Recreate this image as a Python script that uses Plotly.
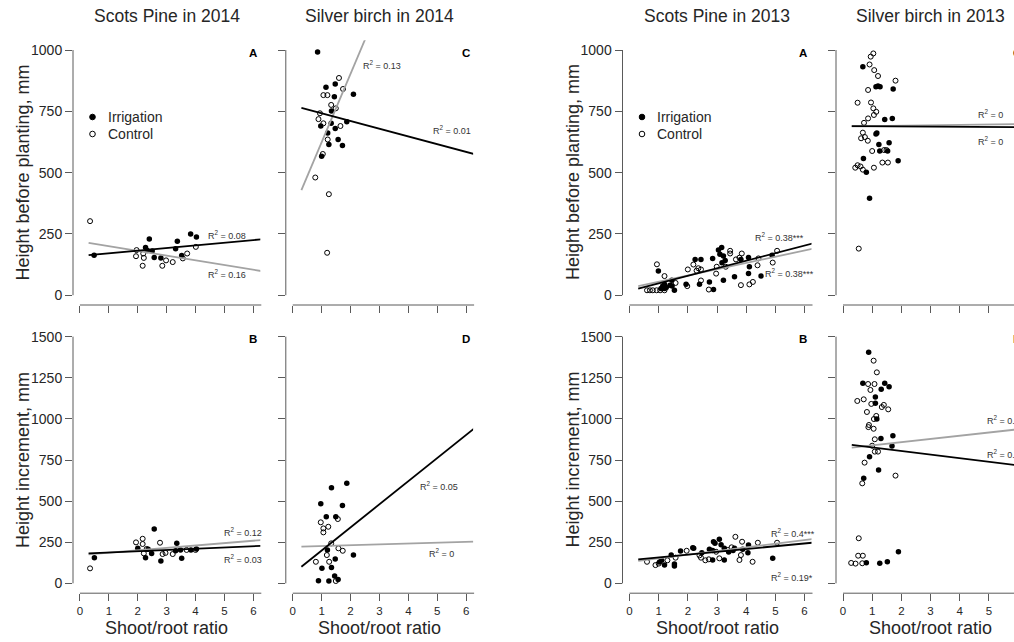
import plotly.graph_objects as go

W, H = 1014, 642          # reference picture size
FONT = "Liberation Sans, Arial, Helvetica, sans-serif"

# ---------------- data ----------------
# Panel 1: Scots pine 2014, height before planting
p1_irr_x = [0.49, 2.27, 2.40, 2.33, 2.50, 2.57, 2.80, 3.31, 3.37, 3.52, 3.83, 4.03]
p1_irr_y = [163, 195, 229, 182, 180, 154, 152, 189, 220, 162, 250, 237]
p1_ctl_x = [0.35, 1.96, 1.94, 2.19, 2.21, 2.17, 2.85, 2.98, 3.21, 3.56, 3.71, 4.01]
p1_ctl_y = [302, 184, 159, 170, 152, 120, 120, 142, 135, 150, 170, 197]

# Panel 2: Silver birch 2014, height before planting
p2_irr_x = [0.86, 1.15, 1.47, 1.44, 2.10, 1.34, 1.87, 0.97, 1.33, 1.47, 1.21, 1.57, 1.25, 1.72, 1.00]
p2_irr_y = [992, 848, 861, 809, 820, 751, 707, 690, 701, 680, 662, 635, 615, 611, 567]
p2_ctl_x = [1.60, 1.74, 1.06, 1.20, 1.33, 1.49, 0.94, 0.89, 1.06, 1.65, 1.21, 1.04, 0.78, 1.25, 1.19]
p2_ctl_y = [886, 841, 816, 816, 776, 762, 742, 718, 701, 690, 635, 576, 480, 412, 173]

# Panel 3: Scots pine 2013, height before planting
p3_irr_x = [0.99, 1.08, 1.14, 1.20, 1.20, 1.26, 1.39, 1.46, 1.54, 1.45, 1.94, 2.25, 2.45, 2.40, 2.74, 2.88,
            2.85, 3.05, 3.16, 3.10, 3.22, 3.28, 3.17, 3.22, 3.60, 3.82, 4.08, 4.11, 4.08, 4.51, 4.89]
p3_irr_y = [99, 27, 37, 45, 27, 31, 41, 37, 20, 61, 45, 146, 146, 45, 54, 23,
            150, 184, 195, 167, 160, 142, 132, 61, 75, 146, 154, 116, 88, 78, 163]
p3_ctl_x = [0.94, 1.20, 0.60, 0.70, 0.80, 0.93, 1.05, 1.20, 1.58, 2.00, 1.98, 2.19, 2.30, 2.36, 2.45, 2.45,
            2.72, 2.97, 2.99, 3.30, 3.45, 3.45, 3.65, 3.77, 3.85, 3.82, 4.11, 4.23, 4.39, 4.42, 4.91, 5.06]
p3_ctl_y = [126, 78, 20, 20, 20, 20, 20, 20, 50, 105, 37, 125, 100, 110, 105, 60,
            23, 88, 116, 116, 181, 170, 146, 153, 170, 41, 44, 54, 122, 150, 133, 181]

# Panel 4: Silver birch 2013, height before planting
p4_irr_x = [0.68, 1.13, 1.20, 1.27, 1.72, 1.43, 1.69, 1.13, 1.23, 1.58, 1.26, 1.53, 1.89, 0.70, 0.80, 0.91, 1.16]
p4_irr_y = [932, 850, 853, 850, 841, 717, 721, 657, 615, 622, 588, 588, 548, 558, 501, 395, 662]
p4_ctl_x = [1.04, 0.95, 0.91, 1.07, 1.20, 1.80, 0.86, 0.50, 0.96, 1.04, 1.14, 1.06, 0.86, 0.72, 0.68,
            0.62, 0.75, 0.85, 1.00, 1.35, 1.54, 0.42, 0.50, 0.60, 0.68, 1.06, 0.54, 1.49, 1.41]
p4_ctl_y = [986, 973, 941, 918, 894, 875, 837, 785, 786, 762, 748, 735, 721, 703, 663,
            640, 645, 630, 588, 541, 541, 520, 530, 525, 512, 520, 190, 592, 592]

# Panel 5: Scots pine 2014, height increment
p5_irr_x = [0.50, 2.00, 2.27, 2.36, 2.48, 2.57, 2.80, 3.35, 3.31, 3.52, 3.48, 3.84, 4.03]
p5_irr_y = [156, 213, 156, 207, 182, 330, 136, 243, 198, 152, 203, 203, 209]
p5_ctl_x = [0.35, 1.94, 2.17, 2.17, 2.21, 2.31, 2.77, 2.86, 2.96, 3.21, 3.69, 4.00]
p5_ctl_y = [91, 249, 271, 239, 182, 209, 247, 178, 185, 178, 203, 203]

# Panel 6: Silver birch 2014, height increment
p6_irr_x = [1.34, 1.87, 0.97, 1.72, 1.16, 1.49, 1.20, 2.10, 1.47, 1.01, 1.34, 1.45, 1.57, 0.89, 1.25]
p6_irr_y = [582, 608, 484, 474, 405, 405, 203, 172, 148, 91, 97, 44, 24, 16, 14]
p6_ctl_x = [1.56, 0.97, 1.23, 1.06, 1.06, 1.33, 1.58, 1.73, 1.18, 0.80, 1.26, 1.49]
p6_ctl_y = [391, 371, 344, 334, 310, 243, 213, 198, 172, 131, 131, 14]

# Panel 7: Scots pine 2013, height increment
p7_irr_x = [1.03, 1.10, 1.20, 1.43, 1.54, 1.75, 2.20, 2.17, 2.48, 2.74, 2.88, 2.93, 2.85, 3.08, 3.14,
            3.25, 3.25, 3.40, 3.55, 3.60, 3.88, 4.08, 4.06, 4.91, 1.54, 2.85]
p7_irr_y = [130, 140, 111, 172, 117, 196, 213, 217, 186, 207, 253, 243, 200, 268, 235,
            213, 142, 190, 200, 213, 207, 233, 186, 152, 105, 142]
p7_ctl_x = [0.60, 0.89, 1.00, 1.58, 1.96, 2.40, 2.45, 2.72, 2.97, 3.08, 3.37, 3.50, 3.63, 3.77, 3.82,
            3.86, 4.22, 4.40, 5.06, 1.30, 2.60]
p7_ctl_y = [131, 111, 120, 156, 198, 170, 156, 146, 192, 152, 203, 219, 283, 142, 172,
            253, 131, 247, 247, 140, 140]

# Panel 8: Silver birch 2013, height increment
p8_irr_x = [0.88, 0.68, 1.43, 1.58, 1.31, 1.11, 1.11, 1.16, 1.30, 1.71, 1.68, 0.91, 1.22, 0.71,
            0.80, 1.26, 1.52, 1.90]
p8_irr_y = [1405, 1217, 1217, 1196, 1180, 1133, 1095, 999, 880, 898, 835, 770, 689, 639,
            125, 122, 131, 192]
p8_ctl_x = [1.05, 1.16, 0.86, 1.08, 0.94, 0.49, 0.71, 0.97, 1.40, 1.33, 1.55, 0.82, 1.14, 1.06, 0.89,
            0.87, 1.05, 1.09, 1.00, 1.09, 1.20, 0.74, 0.66, 1.80, 0.54, 0.52, 0.68, 0.28, 0.43, 0.66]
p8_ctl_y = [1354, 1283, 1212, 1212, 1176, 1109, 1119, 1091, 1085, 1072, 1058, 1042, 1018, 999, 963,
            950, 940, 876, 837, 801, 801, 734, 608, 655, 274, 168, 168, 124, 120, 122]

# regression lines (intercept, slope) for irrigation and control, per panel
irr_fit = [(160, 10.8), (773, -31.4), (18, 30.7), (690, -0.8),
           (180, 7.6), (59, 140.6), (141, 16.9), (848, -21.8)]
ctl_fit = [(219, -19.2), (345, 279), (29.3, 25.5), (688, 1.6),
           (171.6, 14.6), (221.5, 5.1), (130.4, 22.1), (819.5, 19.5)]
fit_x = [0.3, 6.3]

# R^2 labels (irrigation, control) per panel
r2_irr = ["0.08", "0.01", "0.38***", "0", "0.03", "0.05", "0.19*", "0.15"]
r2_ctl = ["0.16", "0.13", "0.38***", "0", "0.12", "0", "0.4***", "0.03"]

panel_letters = ["A", "C", "A", "C", "B", "D", "B", "D"]
col_titles = ["Scots Pine in 2014", "Silver birch in 2014", "Scots Pine in 2013", "Silver birch in 2013"]
row_titles = ["Height before planting, mm", "Height increment, mm"]
x_title = "Shoot/root ratio"
legend_labels = ["Irrigation", "Control"]
x_ticks = [0, 1, 2, 3, 4, 5, 6]
y_ticks = [[0, 250, 500, 750, 1000], [0, 250, 500, 750, 1000, 1250, 1500]]

irr_x = [p1_irr_x, p2_irr_x, p3_irr_x, p4_irr_x, p5_irr_x, p6_irr_x, p7_irr_x, p8_irr_x]
irr_y = [p1_irr_y, p2_irr_y, p3_irr_y, p4_irr_y, p5_irr_y, p6_irr_y, p7_irr_y, p8_irr_y]
ctl_x = [p1_ctl_x, p2_ctl_x, p3_ctl_x, p4_ctl_x, p5_ctl_x, p6_ctl_x, p7_ctl_x, p8_ctl_x]
ctl_y = [p1_ctl_y, p2_ctl_y, p3_ctl_y, p4_ctl_y, p5_ctl_y, p6_ctl_y, p7_ctl_y, p8_ctl_y]

# ---------------- layout geometry (reference-picture pixels) ----------------
COL_PX = [(73.0, 260.3), (285.8, 473.1), (622.5, 811.5), (836.0, 1014.0)]
COL_XR = [(-0.24, 6.24), (-0.24, 6.24), (-0.24, 6.24), (-0.24, 5.862)]
ROW_PX = [(40.2, 305.0), (326.8, 593.2)]
ROW_YR = [(-40, 1040), (-60, 1560)]

AXC = "#5a5a5a"
TXT = "#262626"


def px(x):
    return x / W


def py(y):
    return 1 - y / H


def val2py(row, v):
    t, b = ROW_PX[row]
    r0, r1 = ROW_YR[row]
    return b - (v - r0) / (r1 - r0) * (b - t)


def val2px(col, v):
    l, r = COL_PX[col]
    r0, r1 = COL_XR[col]
    unit = (r - l) / (r1 - r0)
    return l + (v - r0) * unit


fig = go.Figure()
layout = dict(
    width=W, height=H,
    margin=dict(l=0, r=0, t=0, b=0),
    paper_bgcolor="white", plot_bgcolor="white",
    showlegend=False,
    font=dict(family=FONT, color=TXT),
)
shapes = []
annotations = []

for row in range(2):
    for col in range(4):
        k = row * 4 + col + 1
        idx = k - 1
        xs = "" if k == 1 else str(k)
        l, r = COL_PX[col]
        t, b = ROW_PX[row]
        layout["xaxis" + xs] = dict(
            domain=[px(l), min(1.0, px(r))], range=list(COL_XR[col]), anchor="y" + xs,
            tickvals=x_ticks, ticks="outside", ticklen=7, tickwidth=1, tickcolor=AXC,
            showticklabels=(row == 1), tickfont=dict(size=11.5, color=TXT, family=FONT),
            showline=False, showgrid=False, zeroline=False, fixedrange=True,
        )
        layout["yaxis" + xs] = dict(
            domain=[py(b), py(t)], range=list(ROW_YR[row]), anchor="x" + xs,
            tickvals=y_ticks[row], ticks="outside", ticklen=7, tickwidth=1, tickcolor=AXC,
            showticklabels=(col in (0, 2)), tickfont=dict(size=14, color=TXT, family=FONT),
            showline=False, showgrid=False, zeroline=False, fixedrange=True,
        )
        # points
        fig.add_trace(go.Scatter(
            x=ctl_x[idx], y=ctl_y[idx], mode="markers", xaxis="x" + xs, yaxis="y" + xs,
            marker=dict(symbol="circle-open", size=5, color="black", line=dict(width=1, color="black")),
            name=legend_labels[1]))
        fig.add_trace(go.Scatter(
            x=irr_x[idx], y=irr_y[idx], mode="markers", xaxis="x" + xs, yaxis="y" + xs,
            marker=dict(symbol="circle", size=5.5, color="black", line=dict(width=0)),
            name=legend_labels[0]))
        # regression lines
        a, s = ctl_fit[idx]
        fig.add_trace(go.Scatter(
            x=fit_x, y=[a + s * xv for xv in fit_x], mode="lines", xaxis="x" + xs, yaxis="y" + xs,
            line=dict(color="#a3a3a3", width=1.8), hoverinfo="skip"))
        a, s = irr_fit[idx]
        fig.add_trace(go.Scatter(
            x=fit_x, y=[a + s * xv for xv in fit_x], mode="lines", xaxis="x" + xs, yaxis="y" + xs,
            line=dict(color="black", width=1.8), hoverinfo="skip"))

        # R-style axis lines
        shapes.append(dict(type="line", xref="paper", yref="paper",
                           x0=px(l), x1=px(l), y0=py(val2py(row, 0)), y1=py(val2py(row, y_ticks[row][-1])),
                           line=dict(color=AXC, width=1)))
        shapes.append(dict(type="line", xref="paper", yref="paper",
                           x0=px(val2px(col, 0)), x1=min(1.0, px(r + 1)), y0=py(b), y1=py(b),
                           line=dict(color=AXC, width=1)))

        # panel letter
        lx = val2px(col, 0) + 173.5
        annotations.append(dict(text="<b>%s</b>" % panel_letters[idx], x=px(lx), y=py(t + 12.5),
                                xref="paper", yref="paper", showarrow=False, xanchor="center", yanchor="middle",
                                font=dict(size=11.5, color="black", family=FONT)))

# R^2 label positions (left px, center py) for irrigation and control
r2_pos_irr = [(206, 235), (431, 130), (753, 237), (976, 141), (222, 559), (418, 486), (769, 577), (985, 454)]
r2_pos_ctl = [(206, 274), (361, 65), (763, 273), (976, 114), (222, 532), (427, 553), (769, 533), (985, 420)]
for i in range(8):
    for lab, pos in ((r2_irr[i], r2_pos_irr[i]), (r2_ctl[i], r2_pos_ctl[i])):
        annotations.append(dict(text="R<sup>2</sup> = " + lab, x=px(pos[0]), y=py(pos[1]),
                                xref="paper", yref="paper", showarrow=False, xanchor="left", yanchor="middle",
                                font=dict(size=9, color="#333333", family=FONT)))

# column titles
title_cx = [(COL_PX[0][0] + COL_PX[0][1]) / 2, (COL_PX[1][0] + COL_PX[1][1]) / 2,
            (COL_PX[2][0] + COL_PX[2][1]) / 2, 930.5]
for c in range(4):
    annotations.append(dict(text=col_titles[c], x=px(title_cx[c]), y=py(16.5), xref="paper", yref="paper",
                            showarrow=False, xanchor="center", yanchor="middle",
                            font=dict(size=17.5, color=TXT, family=FONT)))

# y-axis titles
for c in (0, 2):
    for rw in range(2):
        annotations.append(dict(text=row_titles[rw], x=px(COL_PX[c][0] - 50), y=py((ROW_PX[rw][0] + ROW_PX[rw][1]) / 2),
                                xref="paper", yref="paper", showarrow=False, textangle=-90,
                                xanchor="center", yanchor="middle",
                                font=dict(size=18, color=TXT, family=FONT)))

# x-axis titles
for c in range(4):
    annotations.append(dict(text=x_title, x=px(title_cx[c]), y=py(628), xref="paper", yref="paper",
                            showarrow=False, xanchor="center", yanchor="middle",
                            font=dict(size=18, color=TXT, family=FONT)))

# legends (top-left panel of each group)
for c in (0, 2):
    lx = COL_PX[c][0] + 19.5
    for j, yy in enumerate((117, 134)):
        shapes.append(dict(type="circle", xref="paper", yref="paper",
                           x0=px(lx - 2.8), x1=px(lx + 2.8), y0=py(yy + 2.8), y1=py(yy - 2.8),
                           fillcolor="black" if j == 0 else "white",
                           line=dict(color="black", width=1)))
        annotations.append(dict(text=legend_labels[j], x=px(lx + 13), y=py(yy), xref="paper", yref="paper",
                                showarrow=False, xanchor="left", yanchor="middle",
                                font=dict(size=14, color=TXT, family=FONT)))

layout["shapes"] = shapes
layout["annotations"] = annotations
fig.update_layout(**layout)
fig.write_html(
    "out.html",
    config={"displayModeBar": False},
    post_script="document.body.style.margin='0';document.body.style.overflow='hidden';",
)
